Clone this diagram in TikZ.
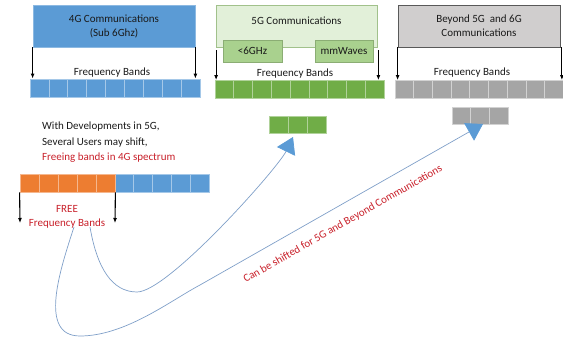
\documentclass[tikz,border=0pt]{standalone}
\usepackage{fontspec}
\setmainfont{Carlito}
\usetikzlibrary{arrows.meta,calc}
\definecolor{cblue}{HTML}{5B9BD5}
\definecolor{corange}{HTML}{ED7D31}
\definecolor{cgreen}{HTML}{70AD47}
\definecolor{cgray}{HTML}{A5A5A5}
\definecolor{lgreen}{HTML}{E2F0D9}
\definecolor{mgreen}{HTML}{A9D18E}
\definecolor{lgray}{HTML}{D0CECE}
\definecolor{ctext}{HTML}{1A1A1A}
\definecolor{cred}{HTML}{C8202A}
\definecolor{curve}{HTML}{7F9FC8}
\tikzset{
  txt/.style={font=\fontsize{11}{13}\selectfont, text=ctext, inner sep=0pt},
  redtxt/.style={font=\fontsize{11}{13}\selectfont, text=cred, inner sep=0pt},
  bigbox/.style={minimum width=162pt, minimum height=42pt, inner sep=0pt, align=center,
    font=\fontsize{11}{14}\selectfont, text=ctext, line width=0.8pt},
  subbox/.style={minimum height=22pt, inner sep=0pt, fill=mgreen, draw=cgreen!80!black!70,
    line width=0.6pt, font=\fontsize{11}{13}\selectfont, text=ctext},
  cell/.style={minimum width=18.9pt, minimum height=18pt, inner sep=0pt, line width=0.8pt},
  darr/.style={-{Latex[length=5pt,width=4pt]}, line width=1.1pt, black},
  carr/.style={-{Triangle[length=16pt,width=20pt,color=cblue]}, curve, line width=0.7pt},
}
\begin{document}
\begin{tikzpicture}[x=1pt,y=-1pt]
\useasboundingbox (0,0) rectangle (563,339);
% top boxes
\node[bigbox, fill=cblue, draw=cblue!70!white] (g4) at (114,26) {4G Communications\\(Sub 6Ghz)};
\node[bigbox, fill=lgreen, draw=mgreen!80!gray, minimum width=161pt] (g5) at (296.5,26) {\raisebox{11pt}{5G Communications}};
\node[subbox, minimum width=59pt] (s6) at (252.5,51) {<6GHz};
\node[subbox, minimum width=58pt] (mm) at (344,51) {mmWaves};
\node[bigbox, fill=lgray, draw=black!65] (g6) at (479,26) {Beyond 5G\ \ and 6G\\Communications};
% band rows
\foreach \i in {0,...,8} {
  \node[cell, fill=cblue, draw=cblue!55!white] (b4-\i) at ({30+18.9*(\i+0.5)},88) {};
  \node[cell, fill=cgreen, draw=cgreen!55!white, minimum width=18.8pt] (b5-\i) at ({215+18.8*(\i+0.5)},89.5) {};
  \node[cell, fill=cgray, draw=cgray!50!white, minimum width=18.7pt] (b6-\i) at ({395+18.7*(\i+0.5)},89.5) {};
}
\foreach \i in {0,1,2} {
  \node[cell, fill=cgreen, draw=cgreen!55!white, minimum height=17pt] (sg-\i) at ({269+19*(\i+0.5)},124.5) {};
  \node[cell, fill=cgray, draw=cgray!50!white, minimum height=17pt] (sy-\i) at ({452+18.7*(\i+0.5)},115.5) {};
}
\foreach \i in {0,...,4} {
  \node[cell, fill=corange, draw=corange!55!white, minimum width=19pt] (bo-\i) at ({20+19*(\i+0.5)},183) {};
  \node[cell, fill=cblue, draw=cblue!55!white, minimum width=18.8pt] (bb-\i) at ({115+18.8*(\i+0.5)},183) {};
}
% labels
\node[txt] (fb4) at (112,72.5) {Frequency Bands};
\node[txt] (fb5) at (295,74) {Frequency Bands};
\node[txt] (fb6) at (472,73) {Frequency Bands};
\node[txt, anchor=north west, align=left, font=\fontsize{11}{15.5}\selectfont] (dev) at (42,122)
  {With Developments in 5G,\\Several Users may shift,\\\textcolor{cred}{Freeing bands in 4G spectrum}};
\node[redtxt] (free) at (67,209) {FREE};
\node[redtxt] (ffb) at (67,224) {Frequency Bands};
\node[redtxt, rotate=29.7] (shift) at (343,224) {Can be shifted for 5G and Beyond Communications};
% vertical arrows
\draw[darr] (g4.south west) -- (g4.south west |- b4-0.north);
\draw[darr] (g4.south east) -- (g4.south east |- b4-8.north);
\draw[darr] ([xshift=0.5pt,yshift=-3pt]g5.south west) -- ([xshift=0.5pt]g5.south west |- b5-0.north);
\draw[darr] ([xshift=1pt,yshift=-3pt]g5.south east) -- ([xshift=1pt]g5.south east |- b5-8.north);
\draw[darr] (g6.south west) -- (g6.south west |- b6-0.north);
\draw[darr] ([xshift=1.5pt]g6.south east) -- ([xshift=1.5pt]g6.south east |- b6-8.north);
\coordinate (la) at (20,223);
\coordinate (lb) at (115,223);
\draw[darr] (bo-0.south west) -- (la);
\draw[darr] (bo-4.south east) -- (lb);
% curved arrows
\coordinate (c1s) at (90,227);
\coordinate (c1m) at (137,292);
\coordinate (c1e) at (293,137);
\coordinate (c2s) at (74,227);
\coordinate (c2m) at (80,336);
\coordinate (c2k) at (200,285);
\coordinate (c2e) at (483,124);
\draw[carr] (c1s) .. controls (97,268) and (112,292) .. (c1m) .. controls (168,292) and (278,168) .. (c1e);
\draw[carr] (c2s) .. controls (60,270) and (38,336) .. (c2m) .. controls (125,336) and (170,301) .. (c2k) -- (c2e);
\end{tikzpicture}
\end{document}
